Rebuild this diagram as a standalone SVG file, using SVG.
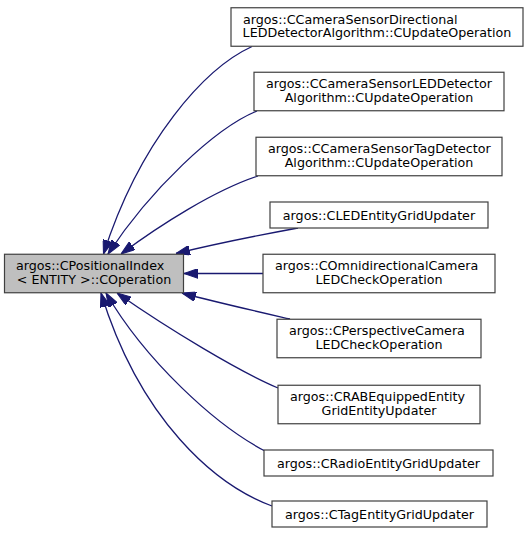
<svg xmlns="http://www.w3.org/2000/svg" width="532" height="533" viewBox="0 0 532 533">
<style>
.node rect{fill:#ffffff;stroke:#404040;stroke-width:1.2}
.node.cur rect{fill:#bfbfbf}
text{font-family:"DejaVu Sans","Liberation Sans",sans-serif;font-size:12.7px;fill:#000}
.s{text-anchor:start}
.m{text-anchor:middle}
.edges path{fill:none;stroke:#191970;stroke-width:1.3;marker-end:url(#arr)}
</style>
<defs>
<marker id="arr" markerUnits="userSpaceOnUse" markerWidth="14" markerHeight="10" viewBox="0 0 13 9" refX="13" refY="4.5" orient="auto">
<path d="M0,0 L13,4.5 L0,9 z" fill="#191970" stroke="#191970" stroke-width="1"/>
</marker>
</defs>
<rect width="532" height="533" fill="#ffffff"/>
<g class="edges" id="edges">
<path d="M252,46.5 C205,68 140,140 103.5,254"/>
<path d="M257,111 C215,128 150,190 108,254"/>
<path d="M258,176 C215,190 160,225 121,254"/>
<path d="M298,228 C260,235 215,244 176,253.5"/>
<path d="M263,273.5 L184,273.5"/>
<path d="M290,319 C255,311 215,302 182,293"/>
<path d="M278,388 C240,372 170,330 117,293"/>
<path d="M265,451 C215,425 145,360 106,293"/>
<path d="M272,506 C215,485 140,420 101,293"/>
</g>
<g class="node cur" id="node1">
<rect x="4.5" y="254.25" width="179" height="38.5"/>
<text class="s" x="16" y="270">argos::CPositionalIndex</text>
<text class="m" x="94" y="283.5">&lt; ENTITY &gt;::COperation</text>
</g>
<g class="node" id="node2">
<rect x="231" y="7.75" width="292" height="38.5"/>
<text class="s" x="243" y="23.5">argos::CCameraSensorDirectional</text>
<text class="m" x="377" y="37">LEDDetectorAlgorithm::CUpdateOperation</text>
</g>
<g class="node" id="node3">
<rect x="254" y="72.25" width="250" height="38.5"/>
<text class="s" x="266" y="88">argos::CCameraSensorLEDDetector</text>
<text class="m" x="379" y="101.5">Algorithm::CUpdateOperation</text>
</g>
<g class="node" id="node4">
<rect x="256" y="137.25" width="246" height="38.5"/>
<text class="s" x="268" y="153">argos::CCameraSensorTagDetector</text>
<text class="m" x="379" y="166.5">Algorithm::CUpdateOperation</text>
</g>
<g class="node" id="node5">
<rect x="270" y="202" width="218" height="26"/>
<text class="m" x="379" y="219.5">argos::CLEDEntityGridUpdater</text>
</g>
<g class="node" id="node6">
<rect x="263" y="254.25" width="232" height="38.5"/>
<text class="s" x="275" y="270">argos::COmnidirectionalCamera</text>
<text class="m" x="379" y="283.5">LEDCheckOperation</text>
</g>
<g class="node" id="node7">
<rect x="277" y="319.25" width="204" height="38.5"/>
<text class="s" x="289" y="335">argos::CPerspectiveCamera</text>
<text class="m" x="379" y="348.5">LEDCheckOperation</text>
</g>
<g class="node" id="node8">
<rect x="278" y="385.25" width="202" height="38.5"/>
<text class="s" x="290" y="401">argos::CRABEquippedEntity</text>
<text class="m" x="379" y="414.5">GridEntityUpdater</text>
</g>
<g class="node" id="node9">
<rect x="264" y="450" width="229" height="26"/>
<text class="m" x="378.5" y="467.5">argos::CRadioEntityGridUpdater</text>
</g>
<g class="node" id="node10">
<rect x="272" y="501" width="215" height="26"/>
<text class="m" x="379.5" y="518.5">argos::CTagEntityGridUpdater</text>
</g>
</svg>
